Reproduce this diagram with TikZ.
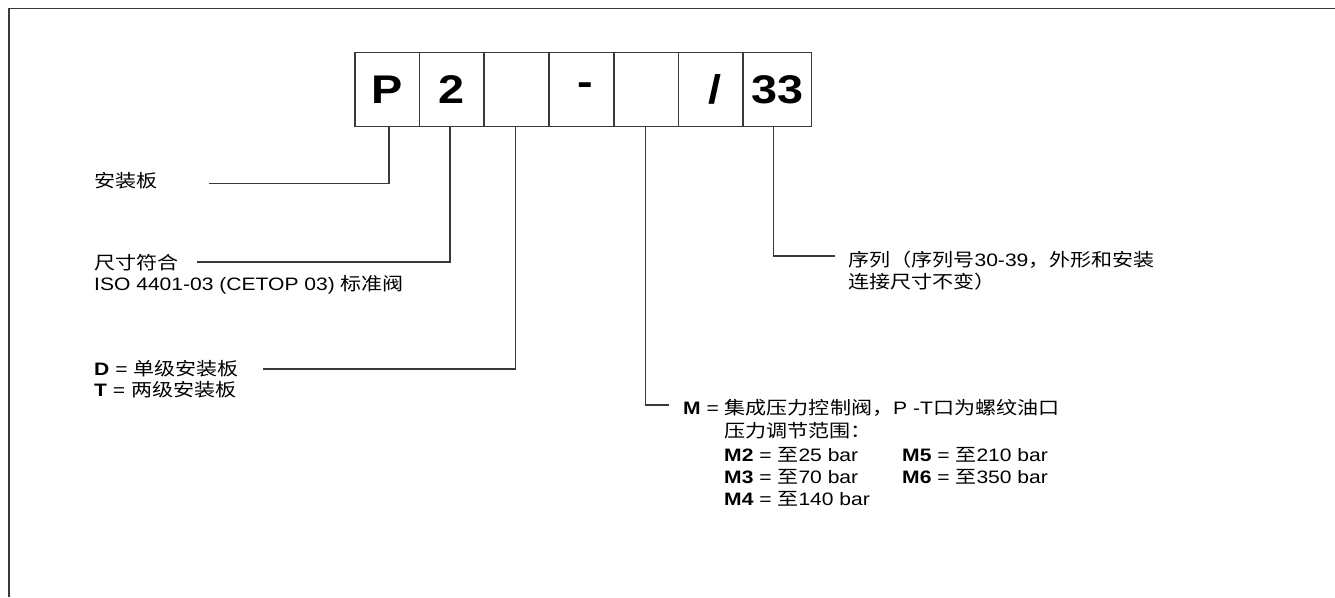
\documentclass[tikz,border=0pt]{standalone}
\usepackage{fontspec}
\setmainfont[FakeStretch=1.17]{Liberation Sans}
\newfontfamily\cjk[FakeStretch=1.17]{Noto Sans CJK SC}
\newcommand{\zh}[1]{{\cjk #1}}
\definecolor{linegray}{HTML}{3A3A3A}
\tikzset{
  cell/.style={draw=linegray, line width=1.3pt, minimum height=74pt, inner sep=0pt,
    font=\fontsize{40}{40}\bfseries\selectfont},
  lead/.style={draw=linegray, line width=1.3pt},
  lbl/.style={anchor=base west, inner sep=0pt, font=\fontsize{18}{21}\selectfont},
  frame/.style={draw=linegray, line width=1.5pt}
}
\begin{document}
\begin{tikzpicture}[x=1pt,y=-1pt]
\useasboundingbox (0,0) rectangle (1335,597);
% partial frame
\coordinate (fa) at (9,597);
\coordinate (fb) at (9,8.3);
\coordinate (fc) at (1336,8.3);
\draw[frame] (fa) -- (fb) -- (fc);
% code boxes
\node[cell, minimum width=64.5pt] (b1) at (387.25,89.5) {P};
\node[cell, minimum width=64.5pt] (b2) at (451.75,89.5) {2};
\node[cell, minimum width=65pt]   (b3) at (516.5,89.5) {};
\node[cell, minimum width=65pt]   (b4) at (581.5,89.5) {\hspace*{7pt}-};
\node[cell, minimum width=64.5pt] (b5) at (646.25,89.5) {};
\node[cell, minimum width=64.5pt] (b6) at (710.75,89.5) {\hspace*{8pt}/};
\node[cell, minimum width=68.5pt] (b7) at (777.25,89.5) {33};
% leader ends
\coordinate (e1) at (209,183.5);
\coordinate (e2) at (197,262);
\coordinate (e3) at (263,369);
\coordinate (e5) at (669,405);
\coordinate (e7) at (835,256);
\draw[lead] ([xshift=1.75pt]b1.south) |- (e1);
\draw[lead] ([xshift=-1.75pt]b2.south) |- (e2);
\draw[lead] ([xshift=-0.8pt]b3.south) |- (e3);
\draw[lead] ([xshift=-0.5pt]b5.south) |- (e5);
\draw[lead] ([xshift=-4pt]b7.south) |- (e7);
% labels
\node[lbl] (t1) at (94,187) {\zh{安装板}};
\node[lbl] (t2a) at (94,269) {\zh{尺寸符合}};
\node[lbl] (t2b) at (94,290) {ISO 4401-03 (CETOP 03) \zh{标准阀}};
\node[lbl] (t3a) at (94,375) {\textbf{D} = \zh{单级安装板}};
\node[lbl] (t3b) at (94,396) {\textbf{T} = \zh{两级安装板}};
\node[lbl] (t7a) at (848,266) {\zh{序列（序列号}30-39\zh{，外形和安装}};
\node[lbl] (t7b) at (848,288) {\zh{连接尺寸不变）}};
\node[lbl] (t5a) at (683,414) {\textbf{M} = \zh{集成压力控制阀，}P -T\zh{口为螺纹油口}};
\node[lbl] (t5b) at (724,437) {\zh{压力调节范围：}};
\node[lbl] (m2) at (724,461) {\textbf{M2} = \zh{至}25 bar};
\node[lbl] (m3) at (724,483) {\textbf{M3} = \zh{至}70 bar};
\node[lbl] (m4) at (724,505) {\textbf{M4} = \zh{至}140 bar};
\node[lbl] (m5) at (902,461) {\textbf{M5} = \zh{至}210 bar};
\node[lbl] (m6) at (902,483) {\textbf{M6} = \zh{至}350 bar};
\end{tikzpicture}
\end{document}
